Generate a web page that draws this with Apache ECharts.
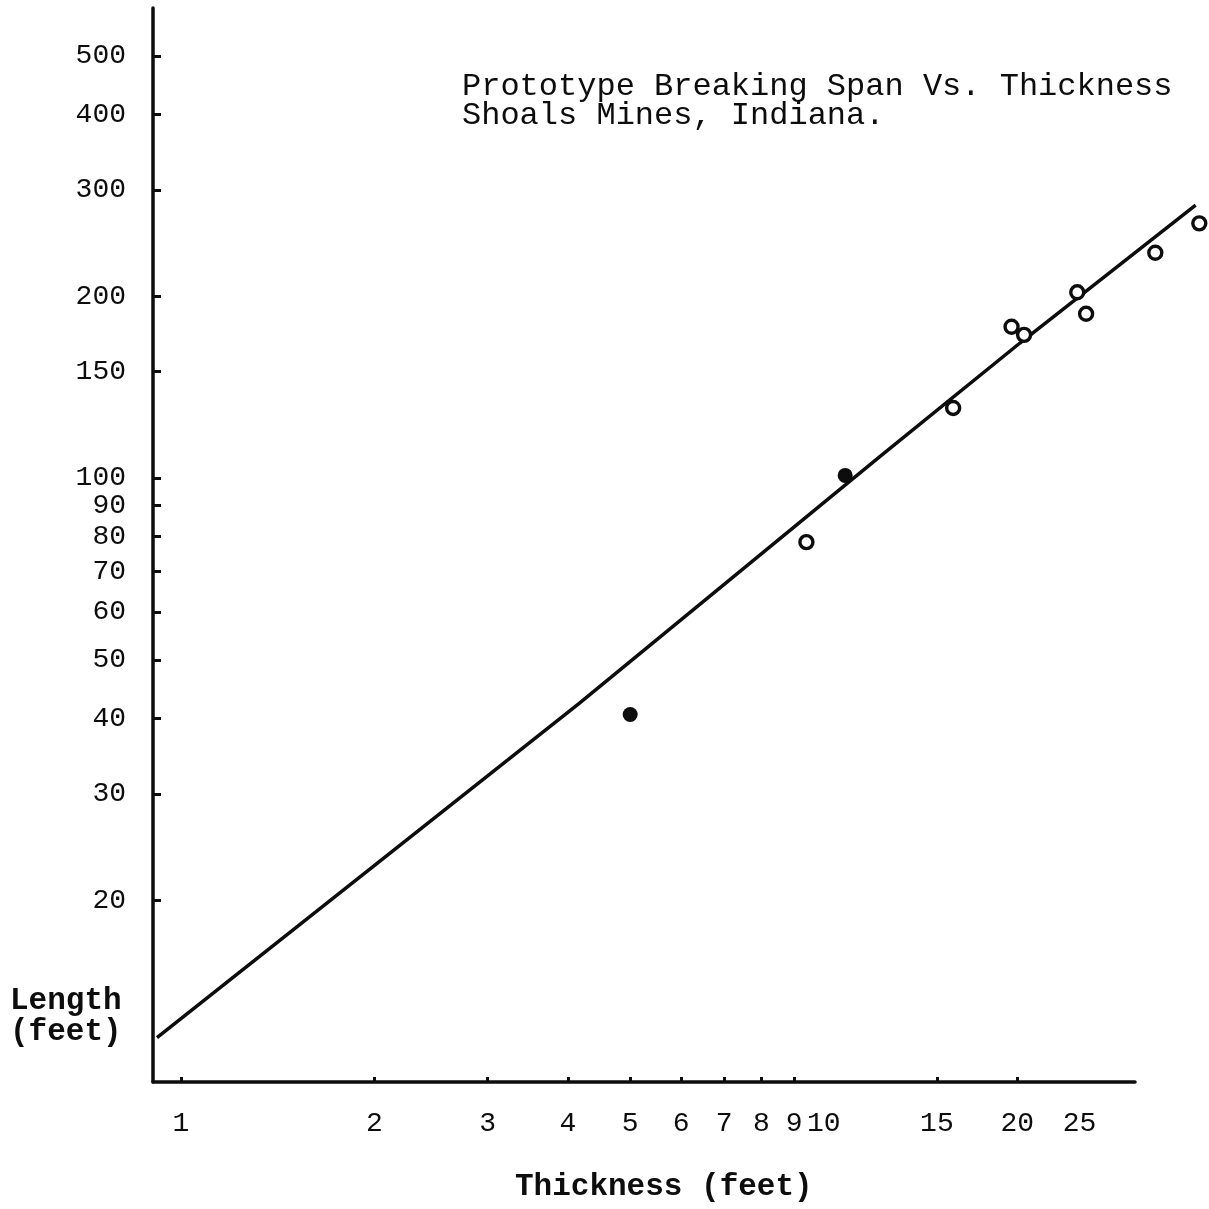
<!DOCTYPE html>
<html>
<head>
<meta charset="utf-8">
<script src="https://cdn.jsdelivr.net/npm/echarts@6/dist/echarts.min.js"></script>
<style>
html, body { margin: 0; padding: 0; background: #fff; }
#chart { width: 1209px; height: 1209px; }
</style>
</head>
<body>
<div id="chart"></div>
<script>
// breaking span vs thickness
var openThick = [9.4, 15.9, 19.6, 20.5, 24.8, 25.6, 32.8, 38.4];
var openSpan = [78.3, 130.6, 178, 172.6, 203, 187, 236, 264];
var solidThick = [5.0, 10.8];
var solidSpan = [40.6, 101];
// hand drawn fit line
var fitThick = [0.918, 4.17, 12.2, 20.2, 37.9];
var fitSpan = [11.84, 42.4, 108.3, 167.3, 283];
// axis ticks / labels
var xTicks = [1, 2, 3, 4, 5, 6, 7, 8, 9, 15, 20];
var xLabels = [1, 2, 3, 4, 5, 6, 7, 8, 9, 10, 15, 20, 25];
var yTicks = [20, 30, 40, 50, 60, 70, 80, 90, 100, 150, 200, 300, 400, 500];

var ink = "#0d0d0d";
var mono = "Liberation Mono";

// drawn axis stops short of the last points, so marks go on a wider
// hidden grid with the very same px-per-decade
var gLeft = 153, gRight = 74, gTop = 8, gBottom = 127, W = 1209;
var xMin = 0.905, xMax = 30.5;
var wideRight = 4;
var axisW = W - gLeft - gRight;
var wideW = W - gLeft - wideRight;
var xMaxWide = xMin * Math.pow(10, (wideW * Math.log10(xMax / xMin)) / axisW);

function pairs(xs, ys) {
    var out = [];
    xs.forEach(function (x, i) {
        out.push([x, ys[i]]);
    });
    return out;
}

var myChart = echarts.init(document.getElementById("chart"));
var option = {
    backgroundColor: "#fff",
    animation: false,
    title: {
        text: "Prototype Breaking Span Vs. Thickness\nShoals Mines, Indiana.",
        left: 457,
        top: 67,
        textStyle: {
            fontFamily: mono,
            fontSize: 32,
            fontWeight: "normal",
            color: ink,
            lineHeight: 29,
        },
    },
    grid: [
        { left: gLeft, right: gRight, top: gTop, bottom: gBottom },
        { left: gLeft, right: wideRight, top: gTop, bottom: gBottom },
    ],
    xAxis: [
        {
            type: "log",
            gridIndex: 0,
            logBase: 10,
            min: xMin,
            max: xMax,
            splitLine: { show: false },
            axisLine: { lineStyle: { color: ink, width: 3.5 } },
            axisTick: {
                inside: true,
                length: 5,
                customValues: xTicks,
                lineStyle: { color: ink, width: 3 },
            },
            axisLabel: {
                customValues: xLabels,
                margin: 28,
                fontFamily: mono,
                fontSize: 28,
                color: ink,
                hideOverlap: false,
            },
        },
        {
            type: "log",
            gridIndex: 1,
            logBase: 10,
            min: xMin,
            max: xMaxWide,
            show: false,
        },
    ],
    yAxis: [
        {
            type: "log",
            gridIndex: 0,
            logBase: 10,
            min: 10,
            max: 600,
            splitLine: { show: false },
            axisLine: { lineStyle: { color: ink, width: 3.5 } },
            axisTick: {
                inside: true,
                length: 8,
                customValues: yTicks,
                lineStyle: { color: ink, width: 3 },
            },
            axisLabel: {
                customValues: yTicks,
                margin: 27,
                fontFamily: mono,
                fontSize: 28,
                color: ink,
                hideOverlap: false,
            },
        },
        {
            type: "log",
            gridIndex: 1,
            logBase: 10,
            min: 10,
            max: 600,
            show: false,
        },
    ],
    graphic: [
        {
            type: "text",
            left: 10,
            top: 986,
            style: {
                text: "Length\n(feet)",
                font: 'bold 31px "Liberation Mono"',
                fill: ink,
                lineHeight: 31,
            },
        },
        {
            type: "text",
            left: 515,
            top: 1172,
            style: {
                text: "Thickness (feet)",
                font: 'bold 31px "Liberation Mono"',
                fill: ink,
            },
        },
    ],
    series: [
        {
            type: "line",
            xAxisIndex: 1,
            yAxisIndex: 1,
            data: pairs(fitThick, fitSpan),
            showSymbol: false,
            lineStyle: { color: ink, width: 3.5 },
            z: 2,
        },
        {
            type: "scatter",
            xAxisIndex: 1,
            yAxisIndex: 1,
            data: pairs(openThick, openSpan),
            symbol: "circle",
            symbolSize: 13,
            itemStyle: { color: "#fff", borderColor: ink, borderWidth: 3.4, opacity: 1 },
            z: 3,
        },
        {
            type: "scatter",
            xAxisIndex: 1,
            yAxisIndex: 1,
            data: pairs(solidThick, solidSpan),
            symbol: "circle",
            symbolSize: 15,
            itemStyle: { color: ink, opacity: 1 },
            z: 3,
        },
    ],
};
option && myChart.setOption(option);
</script>
</body>
</html>
